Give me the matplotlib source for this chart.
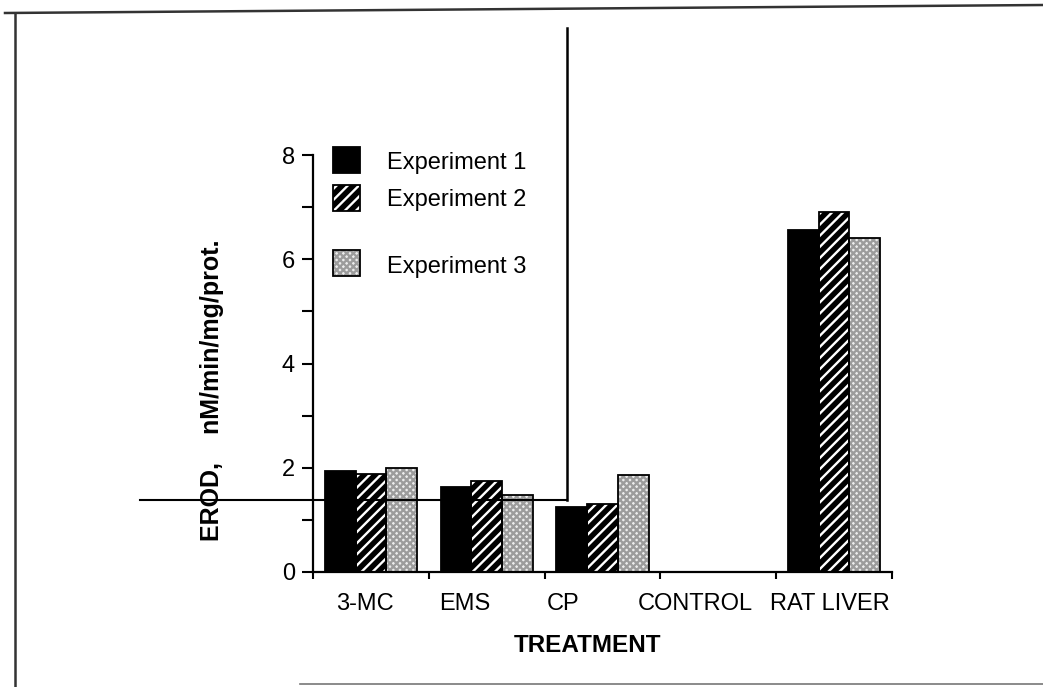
import numpy as np
import matplotlib
matplotlib.use("Agg")
import matplotlib.pyplot as plt
from matplotlib.lines import Line2D
from matplotlib.patches import Rectangle

plt.rcParams["font.family"] = ["Liberation Sans", "DejaVu Sans"]
plt.rcParams["hatch.linewidth"] = 1.7

treatments = ["3-MC", "EMS", "CP", "CONTROL", "RAT LIVER"]
exp1 = [1.94, 1.63, 1.24, 0.0, 6.56]
exp2 = [1.88, 1.74, 1.30, 0.0, 6.90]
exp3 = [1.99, 1.48, 1.86, 0.0, 6.41]
series_names = ["Experiment 1", "Experiment 2", "Experiment 3"]
# label positions in the original sit a bit left of the group centres
label_pos = [-0.05, 0.81, 1.66, 2.80, 3.96]

W, H = 1043, 687


def fx(px):
    return px / W


def fy(py):
    return 1 - py / H


fig = plt.figure(figsize=(10.43, 6.87), dpi=100)
ax = fig.add_axes([fx(313), fy(572), fx(892) - fx(313), fy(155) - fy(572)])

x = np.arange(len(treatments))
width = 0.265

styles = [
    dict(facecolor="black", edgecolor="black", hatch=None),
    dict(facecolor="black", edgecolor="white", hatch="///"),
    dict(facecolor="#ededed", edgecolor="#9c9c9c", hatch="xxxxx"),
]

for vals, off, st in zip([exp1, exp2, exp3], [-width, 0, width], styles):
    ax.bar(x + off, vals, width, linewidth=0, zorder=2, **st)
    ax.bar(x + off, vals, width, fill=False, edgecolor="black", linewidth=1.3, zorder=3)

ax.set_xlim(-0.5, len(treatments) - 0.5)
ax.set_ylim(0, 8)

for side in ["top", "right"]:
    ax.spines[side].set_visible(False)
ax.spines["left"].set_linewidth(1.6)
ax.spines["bottom"].set_linewidth(1.6)

ax.set_yticks([0, 2, 4, 6, 8])
ax.set_yticks([1, 3, 5, 7], minor=True)
ax.tick_params(axis="y", which="both", direction="out", length=8, width=1.5, labelsize=17, pad=5)

ax.set_xticks(label_pos)
ax.set_xticklabels(treatments)
ax.set_xticks(np.arange(len(treatments) + 1) - 0.5, minor=True)
ax.tick_params(axis="x", which="major", length=0, labelsize=17, pad=15)
ax.tick_params(axis="x", which="minor", direction="out", length=5, width=1.5)

fig.text(fx(588), fy(645), "TREATMENT", fontsize=17.5, fontweight="bold", ha="center", va="center")
fig.text(fx(212), fy(390), "EROD,    nM/min/mg/prot.", fontsize=18, fontweight="bold",
         rotation=90, ha="center", va="center")

# legend drawn by hand, the spacing in the original is uneven
legend_rows = [(147, 163), (185, 200), (250, 267)]
for name, (top, ty), st in zip(series_names, legend_rows, styles):
    box = (fx(333), fy(top + 26))
    bw, bh = fx(27), fy(top) - fy(top + 26)
    fig.add_artist(Rectangle(box, bw, bh, transform=fig.transFigure, linewidth=0, **st))
    fig.add_artist(Rectangle(box, bw, bh, transform=fig.transFigure, fill=False,
                             edgecolor="black", linewidth=1.3))
    fig.text(fx(387), fy(ty), name, fontsize=17, ha="left", va="center")

# scan frame and stray lines
frame = [
    ((5, 1043), (13, 5), 1.8, "#333333"),
    ((15, 15), (13, 687), 1.8, "#333333"),
    ((300, 1043), (684, 684), 1.2, "#777777"),
    ((567, 567), (28, 500), 1.8, "black"),
    ((140, 567), (500, 500), 1.5, "black"),
]
for xs, ys, lw, col in frame:
    fig.add_artist(Line2D([fx(v) for v in xs], [fy(v) for v in ys], transform=fig.transFigure,
                          linewidth=lw, color=col, zorder=10))

fig.savefig("out.png", dpi=100)
